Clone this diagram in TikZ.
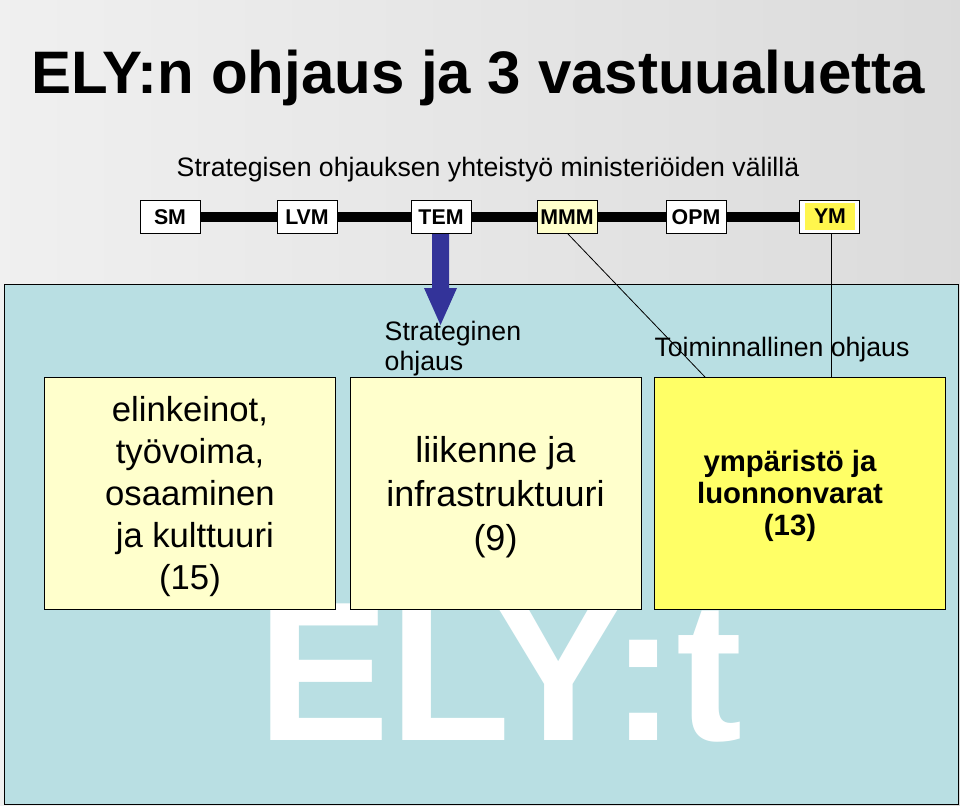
\documentclass[tikz,border=0pt]{standalone}
\usepackage{fontspec}
\setmainfont{Liberation Sans}
\begin{document}
\begin{tikzpicture}[x=0.75pt,y=-0.75pt,
  mini/.style={draw=black,fill=white,minimum width=45pt,minimum height=25pt,inner sep=0pt,font=\fontsize{16}{18}\selectfont\bfseries},
  big/.style={draw=black,minimum width=218pt,minimum height=174pt,inner sep=0pt,align=center},
  thin/.style={draw=black,line width=0.6pt}]
\shade[left color=gray!12,right color=gray!28] (0,0) rectangle (960,806);
\useasboundingbox (0,0) rectangle (960,806);
\fill[fill={rgb,255:red,185;green,223;blue,227},draw=black] (4,284) rectangle (958,804);
\node[text=white,font=\fontsize{149}{149}\selectfont\bfseries,anchor=base] (ely) at (500,740) {ELY:t};
\node[font=\fontsize{45}{49}\selectfont\bfseries] (title) at (478,78) {ELY:n ohjaus ja 3 vastuualuetta};
\node[font=\fontsize{20}{23}\selectfont] (sub) at (488,170) {Strategisen ohjauksen yhteistyö ministeriöiden välillä};
\draw[line width=7.5pt] (170,217) -- (829,217);
\node[mini] (sm) at (170,217) {SM};
\node[mini] (lvm) at (307,217) {LVM};
\node[mini] (tem) at (441,217) {TEM};
\node[mini,fill={rgb,255:red,255;green,255;blue,204}] (mmm) at (567,217) {MMM};
\node[mini] (opm) at (696,217) {OPM};
\node[mini] (ym) at (829,217) {};
\fill[yellow!70!white] (805,203) rectangle (855,230);
\node[font=\fontsize{16}{18}\selectfont\bfseries] (ymt) at (830,216) {YM};
\fill[fill={rgb,255:red,51;green,51;blue,153}] (432,234) -- (449,234) -- (449,288) -- (457,288) -- (440.5,325) -- (424,288) -- (432,288) -- cycle;
\node[big,fill={rgb,255:red,255;green,255;blue,204}] (b1) at (190,493) {};
\node[align=center,font=\fontsize{26}{31.5}\selectfont] (b1t) at (190,497) {elinkeinot,\\työvoima,\\osaaminen\\\ ja kulttuuri\\(15)};
\node[big,fill={rgb,255:red,255;green,255;blue,204}] (b2) at (495.5,493) {};
\node[align=center,font=\fontsize{27}{33}\selectfont] (b2t) at (495.5,497) {liikenne ja\\infrastruktuuri\\(9)};
\node[big,fill={rgb,255:red,255;green,255;blue,102}] (b3) at (799.5,493) {};
\node[align=center,font=\fontsize{22}{24}\selectfont\bfseries] (b3t) at (790,496) {ympäristö ja\\luonnonvarat\\(13)};
\node[align=left,font=\fontsize{20}{23}\selectfont,anchor=north west] (strat) at (380,316) {Strateginen\\ohjaus};
\node[font=\fontsize{20}{23}\selectfont] (toim) at (782,350) {Toiminnallinen ohjaus};
\coordinate (c1) at (705,377);
\coordinate (c2) at (831,377);
\draw[thin] (568,234) -- (c1);
\draw[thin] (831,234) -- (c2);
\end{tikzpicture}
\end{document}
